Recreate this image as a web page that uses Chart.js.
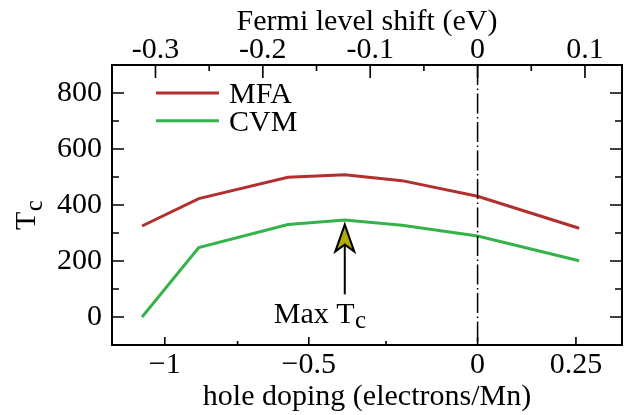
<!DOCTYPE html>
<html>
<head>
<meta charset="utf-8">
<script src="https://cdn.jsdelivr.net/npm/chart.js@4.4.0/dist/chart.umd.min.js"></script>
<style>
  html, body { margin: 0; padding: 0; background: #fff; }
  #wrap { width: 626px; height: 415px; }
</style>
</head>
<body>
<div id="wrap"><canvas id="chart"></canvas></div>
<script>
// x runs linearly in Fermi level shift (eV); hole doping ticks are placed against it
const fermiShift = [-0.3125, -0.2597, -0.1766, -0.1237, -0.0704, 0, 0.0946];
const mfa = [325, 423, 499, 508, 487, 431, 317];
const cvm = [0, 248, 330, 346, 328, 289, 201];

const fermiTicks = [-0.3, -0.25, -0.2, -0.15, -0.1, -0.05, 0, 0.05, 0.1];
const fermiLabels = ['-0.3', '', '-0.2', '', '-0.1', '', '0', '', '0.1'];

// hole doping -1, -0.75, -0.5, -0.25, 0, 0.25 sit at these shifts
const dopingTicks = [-0.2913, -0.2235, -0.1572, -0.0853, 0, 0.0916];
const dopingLabels = ['\u22121', '', '\u22120.5', '', '0', '0.25'];

const tcTicks = [0, 100, 200, 300, 400, 500, 600, 700, 800];
const tcLabels = ['0', '', '200', '', '400', '', '600', '', '800'];

const maxTc = { x: -0.1237, tip: 330, tail: 81 };

const FONT = 'Liberation Serif';
const tickFont = { family: FONT, size: 30, lineHeight: 1 };
const titleFont = { family: FONT, size: 30, lineHeight: 1.2 };

const decor = {
  id: 'decor',
  afterDatasetsDraw(chart) {
    const ctx = chart.ctx;
    const a = chart.chartArea;
    const sx = chart.scales.x, st = chart.scales.x2, sy = chart.scales.y;
    ctx.save();
    ctx.strokeStyle = '#000';
    ctx.fillStyle = '#000';

    // frame
    ctx.lineWidth = 2;
    ctx.strokeRect(a.left, a.top, a.right - a.left, a.bottom - a.top);

    // inward ticks
    ctx.lineWidth = 1.6;
    ctx.beginPath();
    sx.ticks.forEach(t => {
      const p = sx.getPixelForValue(t.value);
      ctx.moveTo(p, a.bottom); ctx.lineTo(p, a.bottom - (t.label ? 8 : 4));
    });
    st.ticks.forEach(t => {
      const p = st.getPixelForValue(t.value);
      ctx.moveTo(p, a.top); ctx.lineTo(p, a.top + (t.label ? 13 : 6));
    });
    sy.ticks.forEach(t => {
      const p = sy.getPixelForValue(t.value);
      const len = t.label ? 12 : 7;
      ctx.moveTo(a.left, p); ctx.lineTo(a.left + len, p);
      ctx.moveTo(a.right, p); ctx.lineTo(a.right - len, p);
    });
    ctx.stroke();

    // legend
    ctx.font = '30px "' + FONT + '"';
    ctx.textBaseline = 'alphabetic';
    ctx.textAlign = 'left';
    let ly = a.top + 28;
    chart.data.datasets.forEach(ds => {
      if (!ds.label) return;
      ctx.strokeStyle = ds.borderColor;
      ctx.lineWidth = 3;
      ctx.beginPath();
      ctx.moveTo(a.left + 44, ly); ctx.lineTo(a.left + 107, ly);
      ctx.stroke();
      ctx.fillText(ds.label, a.left + 117, ly + 10);
      ly += 27.7;
    });

    // y title T_c
    ctx.save();
    ctx.translate(35, 230);
    ctx.rotate(-Math.PI / 2);
    ctx.font = '30px "' + FONT + '"';
    ctx.fillText('T', 0, 0);
    const tw = ctx.measureText('T').width;
    ctx.font = '25px "' + FONT + '"';
    ctx.fillText('c', tw + 0.5, 7);
    ctx.restore();

    // Max Tc arrow
    const ax = sx.getPixelForValue(maxTc.x);
    const tipY = sy.getPixelForValue(maxTc.tip);
    const tailY = sy.getPixelForValue(maxTc.tail);
    ctx.strokeStyle = '#000';
    ctx.lineWidth = 2;
    ctx.beginPath();
    ctx.moveTo(ax, tipY + 18); ctx.lineTo(ax, tailY);
    ctx.stroke();
    ctx.beginPath();
    ctx.moveTo(ax, tipY);
    ctx.lineTo(ax + 9.5, tipY + 27);
    ctx.lineTo(ax, tipY + 20);
    ctx.lineTo(ax - 9.5, tipY + 27);
    ctx.closePath();
    ctx.fillStyle = '#b3ab00';
    ctx.fill();
    ctx.stroke();

    ctx.fillStyle = '#000';
    ctx.font = '30px "' + FONT + '"';
    const mx = ax - 71, my = tailY + 29;
    ctx.fillText('Max T', mx, my);
    const mw = ctx.measureText('Max T').width;
    ctx.font = '25px "' + FONT + '"';
    ctx.fillText('c', mx + mw + 0.5, my + 5);

    ctx.restore();
  }
};

const xMin = -0.3405, xMax = 0.1345;

new Chart(document.getElementById('chart'), {
  type: 'line',
  data: {
    datasets: [
      {
        data: [{ x: 0, y: 900 }, { x: 0, y: -100 }],
        borderColor: '#000', borderWidth: 1.5, borderDash: [20, 3.5, 1.5, 3.5],
        pointRadius: 0
      },
      {
        label: 'MFA',
        data: fermiShift.map((x, i) => ({ x, y: mfa[i] })),
        borderColor: '#b22f2f', borderWidth: 3, pointRadius: 0, tension: 0
      },
      {
        label: 'CVM',
        data: fermiShift.map((x, i) => ({ x, y: cvm[i] })),
        borderColor: '#35b34a', borderWidth: 3, pointRadius: 0, tension: 0
      }
    ]
  },
  options: {
    responsive: true,
    maintainAspectRatio: false,
    animation: false,
    devicePixelRatio: 1,
    layout: { padding: { left: 0, right: 4, top: 0, bottom: 0 } },
    plugins: { legend: { display: false }, tooltip: { enabled: false } },
    scales: {
      x: {
        type: 'linear', position: 'bottom', min: xMin, max: xMax,
        afterBuildTicks: s => { s.ticks = dopingTicks.map(v => ({ value: v })); },
        afterFit: s => { s.height = 70; },
        ticks: {
          callback: (v, i) => dopingLabels[i],
          font: tickFont, color: '#000', padding: 5, autoSkip: false, maxRotation: 0
        },
        grid: { display: false, drawTicks: false },
        border: { display: false },
        title: { display: true, text: 'hole doping (electrons/Mn)', font: titleFont, color: '#000', padding: { top: 0, bottom: 0 } }
      },
      x2: {
        type: 'linear', position: 'top', axis: 'x', min: xMin, max: xMax,
        afterBuildTicks: s => { s.ticks = fermiTicks.map(v => ({ value: v })); },
        afterFit: s => { s.height = 65; },
        ticks: {
          callback: (v, i) => fermiLabels[i],
          font: tickFont, color: '#000', padding: 0, autoSkip: false, maxRotation: 0
        },
        grid: { display: false, drawTicks: false },
        border: { display: false },
        title: { display: true, text: 'Fermi level shift (eV)', font: titleFont, color: '#000', padding: { top: 4, bottom: 0 } }
      },
      y: {
        type: 'linear', position: 'left', min: -100, max: 900,
        afterBuildTicks: s => { s.ticks = tcTicks.map(v => ({ value: v })); },
        afterFit: s => { s.width = 112; },
        ticks: {
          callback: (v, i) => tcLabels[i],
          font: tickFont, color: '#000', padding: 10, autoSkip: false
        },
        grid: { display: false, drawTicks: false },
        border: { display: false }
      }
    }
  },
  plugins: [decor]
});
</script>
</body>
</html>
